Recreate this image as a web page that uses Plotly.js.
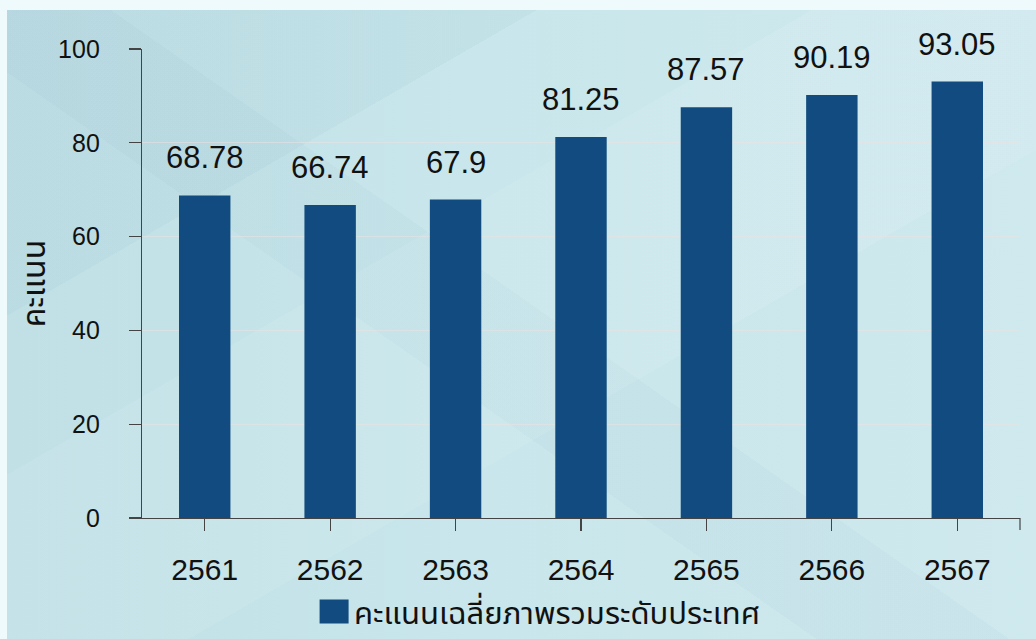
<!DOCTYPE html>
<html>
<head>
<meta charset="utf-8">
<script src="https://cdn.plot.ly/plotly-3.0.1.min.js"></script>
<style>
  html, body { margin: 0; padding: 0; width: 1036px; height: 639px; overflow: hidden; background: #eefafb; }
  #wrap { position: absolute; left: 7px; top: 10px; width: 1029px; height: 629px;
    background:
      linear-gradient(150deg, rgba(255,255,255,0) 0%, rgba(255,255,255,0) 38%, rgba(255,255,255,0.08) 38%, rgba(255,255,255,0.08) 60%, rgba(255,255,255,0) 60%),
      linear-gradient(35deg, rgba(110,150,180,0) 0%, rgba(110,150,180,0) 42%, rgba(110,150,180,0.05) 42%, rgba(110,150,180,0.05) 52%, rgba(110,150,180,0) 52%),
      linear-gradient(150deg, rgba(110,160,180,0.07) 0%, rgba(110,160,180,0.07) 25%, rgba(255,255,255,0) 25%),
      linear-gradient(90deg, #c0e0e6 0%, #c8e6eb 45%, #cfe9ee 100%);
  }
  #chart { width: 1029px; height: 629px; }
</style>
</head>
<body>
<div id="wrap"><div id="chart"></div></div>
<script>
const years = ['2561', '2562', '2563', '2564', '2565', '2566', '2567'];
const scores = [68.78, 66.74, 67.9, 81.25, 87.57, 90.19, 93.05];
const scoreLabels = ['68.78', '66.74', '67.9', '81.25', '87.57', '90.19', '93.05'];
const seriesName = 'คะแนนเฉลี่ยภาพรวมระดับประเทศ';
const yTitle = 'คะแนน';
const yTicks = [0, 20, 40, 60, 80, 100];

const numFont = 'Liberation Sans, Arial, Helvetica, sans-serif';
const thaiFont = 'Noto Sans Thai, Noto Sans, Liberation Sans, sans-serif';

const trace = {
  type: 'bar',
  x: years,
  y: scores,
  name: seriesName,
  width: 0.41,
  marker: { color: '#124b7f' },
  showlegend: true,
  hoverinfo: 'x+y'
};

// value labels above each bar (x given as the category index)
const annotations = years.map((yr, i) => ({
  x: i, y: scores[i], xref: 'x', yref: 'y',
  text: scoreLabels[i], showarrow: false,
  yanchor: 'bottom', yshift: 18,
  font: { family: numFont, size: 31, color: '#111111' }
}));

const layout = {
  width: 1029, height: 629,
  margin: { l: 135, r: 16, t: 39, b: 121, autoexpand: false },
  paper_bgcolor: 'rgba(0,0,0,0)',
  plot_bgcolor: 'rgba(0,0,0,0)',
  font: { family: numFont, color: '#111111' },
  xaxis: {
    type: 'category',
    range: [-0.5, 6.5],
    showline: true, linecolor: '#444444', linewidth: 1.2,
    ticks: 'outside', ticklen: 12, tickcolor: '#444444', tickwidth: 1.2,
    ticklabelstandoff: 13,
    tickfont: { family: numFont, size: 30, color: '#111111' },
    showgrid: false, zeroline: false, fixedrange: true
  },
  yaxis: {
    range: [0, 100],
    tickvals: yTicks,
    showline: true, linecolor: '#444444', linewidth: 1.2,
    ticks: 'outside', ticklen: 12, tickcolor: '#444444', tickwidth: 1.2,
    ticklabelstandoff: 24,
    tickfont: { family: numFont, size: 25, color: '#111111' },
    showgrid: true, gridcolor: 'rgba(235,225,225,0.55)', gridwidth: 1,
    zeroline: false, fixedrange: true,
    title: { text: yTitle, font: { family: thaiFont, size: 32, color: '#111111' }, standoff: 2 }
  },
  showlegend: true,
  legend: {
    orientation: 'h',
    x: 0.196, xanchor: 'left',
    y: -0.2, yanchor: 'middle',
    bgcolor: 'rgba(0,0,0,0)',
    font: { family: thaiFont, size: 31, color: '#111111' }
  },
  annotations: annotations,
  shapes: [{
    type: 'line', xref: 'paper', yref: 'paper',
    x0: 1, x1: 1, y0: 0, y1: -0.0256,
    line: { color: '#444444', width: 1.2 }
  }]
};

Plotly.newPlot('chart', [trace], layout, { displayModeBar: false, staticPlot: true }).then(gd => {
  gd.querySelectorAll('.legendpoints path').forEach(p => p.setAttribute('d', 'M14.5,12H-14.5V-12H14.5Z'));
});
</script>
</body>
</html>
